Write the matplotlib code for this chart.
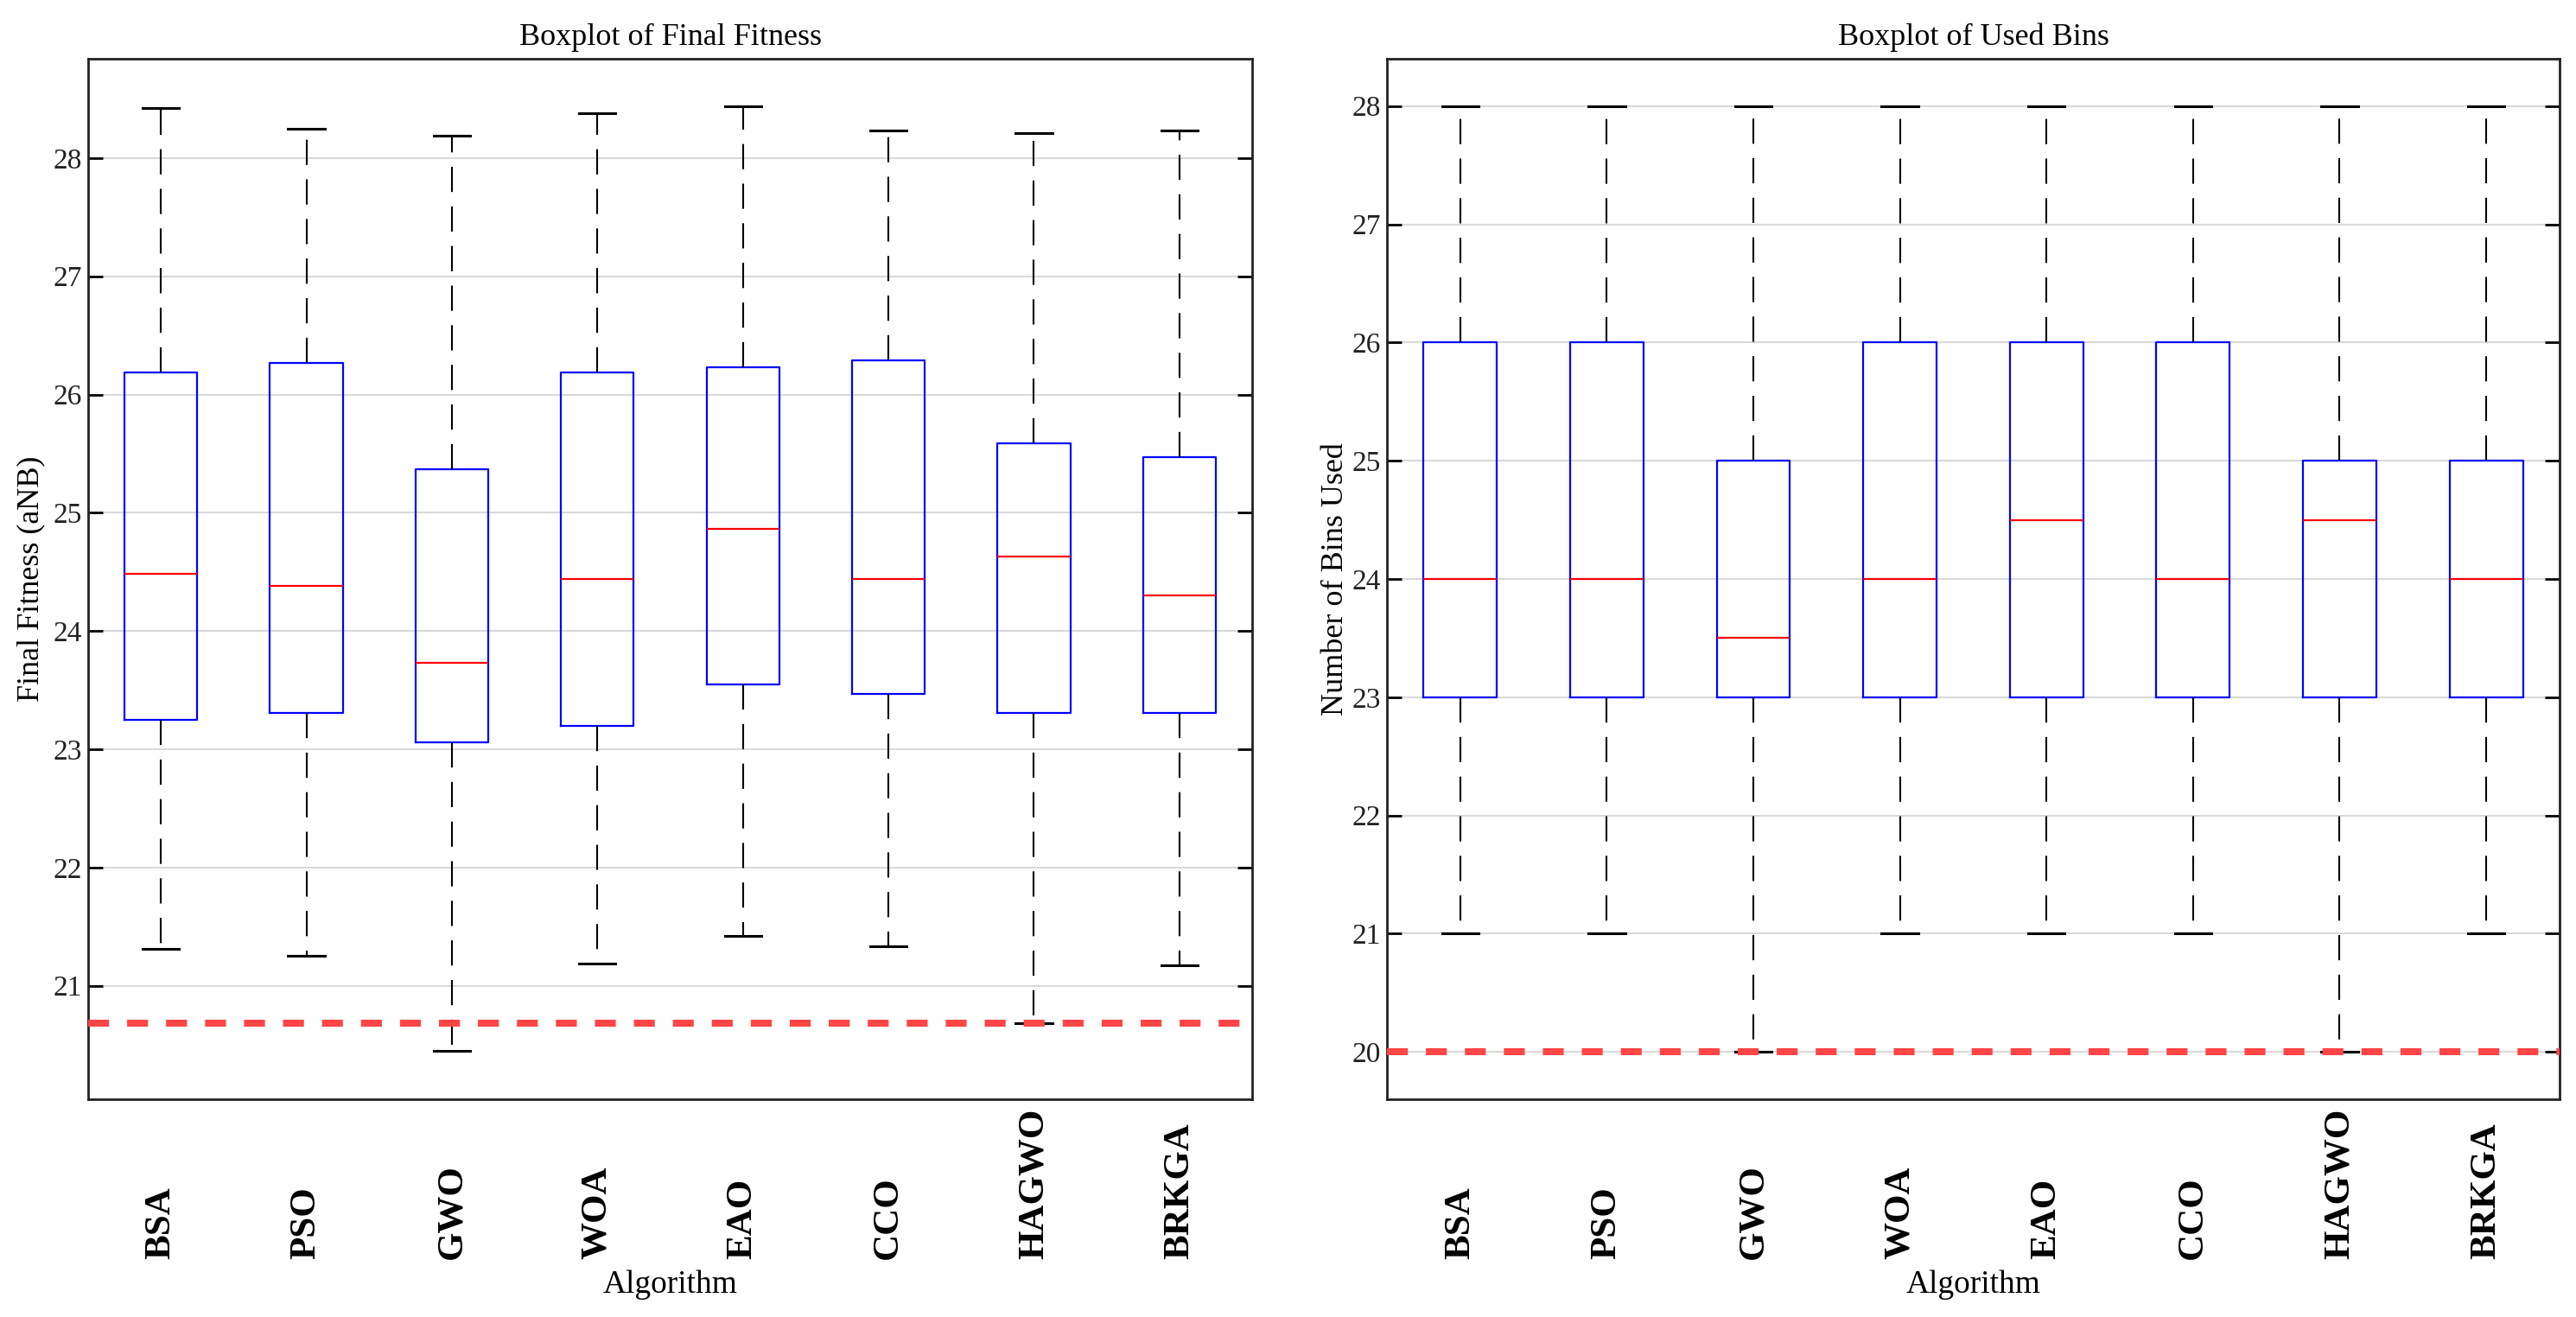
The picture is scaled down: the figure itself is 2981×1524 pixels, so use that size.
import numpy as np
import matplotlib.pyplot as plt

plt.rcParams['font.family'] = ['Liberation Serif', 'DejaVu Serif']

# Данные
algorithms = ["BSA", "PSO", "GWO", "WOA", "EAO", "CCO", "HAGWO", "BRKGA"]

fit_whislo = [21.31, 21.25, 20.45, 21.19, 21.42, 21.33, 20.68, 21.17]
fit_q1 = [23.25, 23.31, 23.06, 23.20, 23.55, 23.47, 23.31, 23.31]
fit_med = [24.48, 24.38, 23.73, 24.44, 24.86, 24.44, 24.63, 24.30]
fit_q3 = [26.19, 26.27, 25.37, 26.19, 26.23, 26.29, 25.59, 25.47]
fit_whishi = [28.42, 28.25, 28.19, 28.38, 28.44, 28.23, 28.21, 28.23]
fit_ref = 20.68

bins_whislo = [21, 21, 20, 21, 21, 21, 20, 21]
bins_q1 = [23, 23, 23, 23, 23, 23, 23, 23]
bins_med = [24, 24, 23.5, 24, 24.5, 24, 24.5, 24]
bins_q3 = [26, 26, 25, 26, 26, 26, 25, 25]
bins_whishi = [28, 28, 28, 28, 28, 28, 28, 28]
bins_ref = 20


def make_stats(lo, q1, med, q3, hi):
    return [dict(whislo=a, q1=b, med=c, q3=d, whishi=e, fliers=[])
            for a, b, c, d, e in zip(lo, q1, med, q3, hi)]


def draw(ax, stats, ref, ylim, title, ylabel, ylabel_x):
    pos = np.arange(1, len(algorithms) + 1)
    ax.bxp(stats, positions=pos, widths=0.5, showfliers=False,
           boxprops=dict(color='#0000ff', linewidth=1.6),
           medianprops=dict(color='#ff0000', linewidth=1.6),
           whiskerprops=dict(color='black', linewidth=1.5, linestyle=(0, (14, 8))),
           capprops=dict(color='black', linewidth=2.2))
    ax.axhline(ref, color='#ff4545', linewidth=5.8, linestyle=(0, (3.0, 2.6)), zorder=5)

    ax.set_xlim(0.5, len(algorithms) + 0.5)
    ax.set_ylim(*ylim)
    ax.yaxis.grid(True, color='#d9d9d9', linewidth=1.5)
    ax.set_axisbelow(True)

    for s in ax.spines.values():
        s.set_linewidth(2)
        s.set_color('#222222')

    ax.tick_params(axis='y', direction='in', left=True, right=True, length=12,
                   width=2, labelsize=24, pad=5, labelcolor='#222222')
    ax.set_xticks(pos, algorithms, rotation=90, fontweight='bold', fontsize=31,
                  va='bottom', ha='center')
    ax.tick_params(axis='x', length=0, pad=133)

    ax.set_title(title, fontsize=26, pad=11.5)
    ax.set_xlabel('Algorithm', fontsize=27)
    ax.xaxis.set_label_coords(0.5, -0.1645)
    ax.set_ylabel(ylabel, fontsize=26)
    ax.yaxis.set_label_coords(ylabel_x, 0.5)


fig = plt.figure(figsize=(29.81, 15.24), dpi=100)
ax1 = fig.add_axes([0.0342, 0.1654, 0.4519, 0.7900])
ax2 = fig.add_axes([0.5384, 0.1654, 0.4552, 0.7900])

draw(ax1, make_stats(fit_whislo, fit_q1, fit_med, fit_q3, fit_whishi), fit_ref,
     (20.04, 28.84), 'Boxplot of Final Fitness', 'Final Fitness (aNB)', -0.037)
draw(ax2, make_stats(bins_whislo, bins_q1, bins_med, bins_q3, bins_whishi), bins_ref,
     (19.6, 28.4), 'Boxplot of Used Bins', 'Number of Bins Used', -0.032)

fig.savefig('out.png', dpi=100)
